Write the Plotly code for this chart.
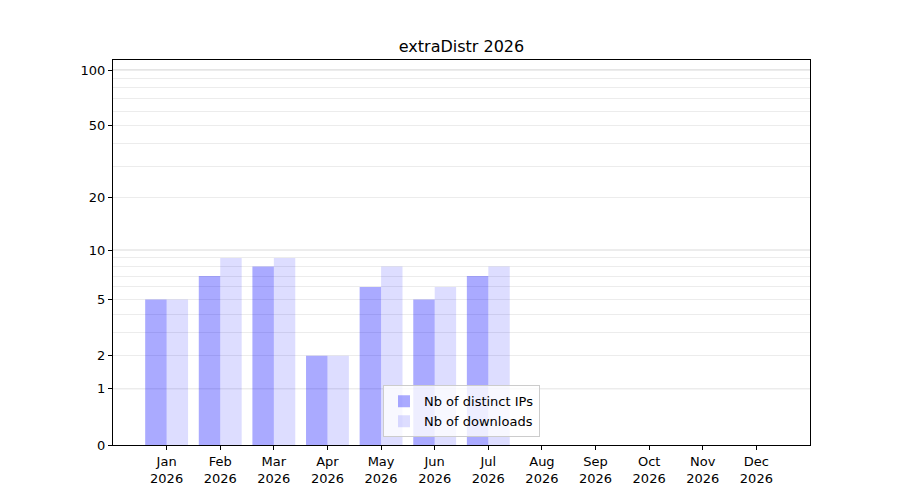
import numpy as np
import plotly.graph_objects as go

# Donnees
months = ["Jan", "Feb", "Mar", "Apr", "May", "Jun", "Jul", "Aug", "Sep", "Oct", "Nov", "Dec"]
year = "2026"
distinct_ips = [5, 7, 8, 2, 6, 5, 7]
downloads = [5, 9, 9, 2, 8, 6, 8]

# Graduations de l'axe y (echelle log10(1 + y))
tick_labels = [0, 1, 2, 5, 10, 20, 50, 100]
major_grid = [1, 10, 100]
minor_grid = [3, 4, 6, 7, 8, 9, 30, 40, 60, 70, 80, 90]


def tr(v):
    return np.log10(1 + np.asarray(v, dtype=float))


x_ips = list(range(len(distinct_ips)))
x_dl = list(range(len(downloads)))

fig = go.Figure()
fig.add_trace(go.Bar(
    x=x_ips, y=tr(distinct_ips),
    width=0.4, offset=-0.4,
    marker=dict(color="rgba(0,0,255,0.333)", line=dict(width=0)),
    name="Nb of distinct IPs",
    customdata=distinct_ips, hovertemplate="%{customdata}<extra></extra>",
))
fig.add_trace(go.Bar(
    x=x_dl, y=tr(downloads),
    width=0.4, offset=0,
    marker=dict(color="rgba(0,0,255,0.133)", line=dict(width=0)),
    name="Nb of downloads",
    customdata=downloads, hovertemplate="%{customdata}<extra></extra>",
))

# lignes de grille principales (plus foncees)
for v in major_grid:
    fig.add_shape(type="line", xref="paper", x0=0, x1=1, yref="y", y0=tr(v), y1=tr(v),
                  line=dict(color="#c8c8c8", width=1), layer="below")

font = dict(family="DejaVu Sans", size=13, color="black")

# la page ajoute une marge de 8px autour de la figure
fig.update_layout(
    width=900, height=500,
    paper_bgcolor="white", plot_bgcolor="white",
    margin=dict(l=105, r=98, t=52, b=63),
    barmode="overlay",
    font=font,
    title=dict(text="extraDistr 2026", x=0.5, xref="paper", y=1 - 38 / 500, yref="container",
               xanchor="center", yanchor="middle", font=dict(family="DejaVu Sans", size=16, color="black")),
    xaxis=dict(
        range=[-1, 12],
        tickmode="array",
        tickvals=list(range(len(months))),
        ticktext=[f"{m}<br>{year}" for m in months],
        ticks="outside", ticklen=4, tickcolor="black",
        showline=True, linecolor="black", linewidth=1, mirror=True,
        showgrid=False, zeroline=False,
    ),
    yaxis=dict(
        range=[0, 2.058],
        tickmode="array",
        tickvals=tr(tick_labels),
        ticktext=[str(t) for t in tick_labels],
        ticks="outside", ticklen=4, tickcolor="black",
        showline=True, linecolor="black", linewidth=1, mirror=True,
        showgrid=True, gridcolor="#ececec", gridwidth=1,
        minor=dict(tickmode="array", tickvals=tr(minor_grid), showgrid=True,
                   gridcolor="#ececec", ticks=""),
        zeroline=False,
    ),
    legend=dict(
        x=0.5, xanchor="center", y=0.02, yanchor="bottom",
        bgcolor="rgba(255,255,255,0.8)", bordercolor="#cccccc", borderwidth=1,
        font=font,
    ),
    showlegend=True,
)

fig.write_html("out.html")
